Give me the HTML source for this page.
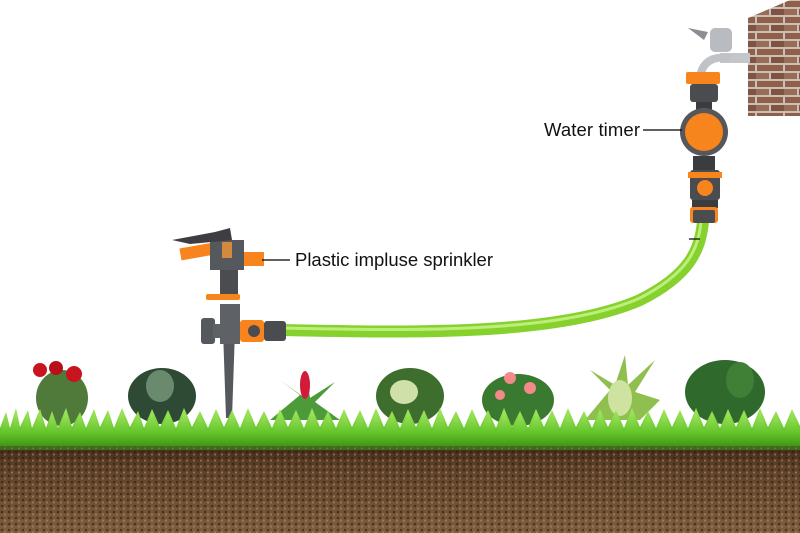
<!DOCTYPE html>
<html><head><meta charset="utf-8"><style>
html,body{margin:0;padding:0;background:#fff;width:800px;height:533px;overflow:hidden}
text{font-family:"Liberation Sans",Arial,sans-serif}
</style></head><body>
<svg width="800" height="533" viewBox="0 0 800 533" xmlns="http://www.w3.org/2000/svg">
<defs>
<linearGradient id="soil" x1="0" y1="0" x2="0" y2="1"><stop offset="0" stop-color="#3e2818"/><stop offset="0.25" stop-color="#5e4129"/><stop offset="1" stop-color="#7e5e3e"/></linearGradient>
<linearGradient id="grass" x1="0" y1="0" x2="0" y2="1"><stop offset="0" stop-color="#a6e860"/><stop offset="0.6" stop-color="#62c42a"/><stop offset="1" stop-color="#3a8c14"/></linearGradient>
<pattern id="brick" width="28" height="16" patternUnits="userSpaceOnUse"><rect width="28" height="16" fill="#c8c0b4"/><rect x="1" y="1" width="26" height="6" fill="#8f5f4a"/><rect x="-13" y="9" width="26" height="6" fill="#9a6b55"/><rect x="15" y="9" width="26" height="6" fill="#7f5242"/></pattern>
<pattern id="dots" width="7" height="6" patternUnits="userSpaceOnUse"><circle cx="2" cy="2" r="1.3" fill="#2a1a0e" opacity=".6"/><circle cx="5" cy="4.5" r="1.1" fill="#b89670" opacity=".55"/></pattern>
</defs>
<rect x="0" y="444" width="800" height="89" fill="url(#soil)"/>
<rect x="0" y="444" width="800" height="89" fill="url(#dots)"/>
<polygon points="748,18 790,0 800,0 800,116 748,116" fill="url(#brick)"/>
<path d="M283,330 C420,333 560,335 640,300 C690,275 700,250 703,222" stroke="#86d12e" stroke-width="12" fill="none"/>
<path d="M283,328 C420,331 560,333 640,298 C688,273 698,250 701,222" stroke="#bdee7a" stroke-width="3" fill="none"/>
<path d="M688,28 l20,4 l-4,8 z" fill="#8b8e92"/>
<rect x="710" y="28" width="22" height="24" rx="5" fill="#b8bcc0"/>
<rect x="720" y="53" width="30" height="10" fill="#c4c7ca"/>
<path d="M700,78 C702,60 715,56 730,58" stroke="#bfc2c6" stroke-width="8" fill="none"/>
<rect x="686" y="72" width="34" height="12" rx="2" fill="#f7841c"/>
<rect x="690" y="84" width="28" height="18" rx="3" fill="#4a4c50"/>
<rect x="696" y="102" width="16" height="8" fill="#3a3c40"/>
<circle cx="704" cy="132" r="24" fill="#55575b"/>
<circle cx="704" cy="132" r="19" fill="#f7841c"/>
<rect x="693" y="156" width="22" height="14" fill="#3a3c40"/>
<rect x="690" y="170" width="30" height="30" rx="3" fill="#4a4c50"/>
<rect x="688" y="172" width="34" height="6" fill="#f7841c"/>
<circle cx="705" cy="188" r="8" fill="#f7841c"/>
<rect x="692" y="200" width="26" height="8" fill="#3a3c40"/>
<rect x="690" y="207" width="28" height="16" rx="3" fill="#f7841c"/>
<rect x="693" y="210" width="22" height="13" rx="2" fill="#4a4c50"/>
<line x1="643" y1="130" x2="682" y2="130" stroke="#000" stroke-width="1.2"/>
<line x1="689" y1="239" x2="700" y2="239" stroke="#000" stroke-width="1.2"/>
<text x="544" y="136" font-size="18.5" fill="#111" textLength="96">Water timer</text>
<polygon points="223,330 235,330 232,418 226,418" fill="#55585c"/>
<rect x="220" y="304" width="20" height="40" fill="#5e6165"/>
<rect x="201" y="318" width="14" height="26" rx="3" fill="#55585c"/>
<rect x="213" y="324" width="30" height="14" fill="#5e6165"/>
<rect x="240" y="320" width="24" height="22" rx="3" fill="#f7841c"/>
<circle cx="254" cy="331" r="6" fill="#4a4c50"/>
<rect x="264" y="321" width="22" height="20" rx="3" fill="#4a4c50"/>
<rect x="206" y="294" width="34" height="6" rx="2" fill="#f7841c"/>
<rect x="220" y="270" width="18" height="24" fill="#4a4c50"/>
<rect x="180" y="245" width="44" height="12" fill="#f7841c" transform="rotate(-10 200 250)"/>
<rect x="234" y="252" width="30" height="14" fill="#f7841c"/>
<rect x="210" y="240" width="34" height="30" fill="#55585c"/>
<rect x="222" y="242" width="10" height="16" fill="#d48a3c"/>
<polygon points="172,240 215,232 230,228 232,240 190,244" fill="#3c3e42"/>
<line x1="262" y1="260" x2="290" y2="260" stroke="#000" stroke-width="1.2"/>
<text x="295" y="266" font-size="18.5" fill="#111" textLength="198">Plastic impluse sprinkler</text>
<g>
<ellipse cx="62" cy="398" rx="26" ry="28" fill="#4f7a3a"/>
<circle cx="40" cy="370" r="7" fill="#c8141e"/><circle cx="56" cy="368" r="7" fill="#b8101a"/><circle cx="74" cy="374" r="8" fill="#c8141e"/>
<ellipse cx="162" cy="396" rx="34" ry="28" fill="#2e4a34"/><ellipse cx="160" cy="386" rx="14" ry="16" fill="#6a8a6e"/>
<path d="M270,420 L300,395 L280,380 L305,398 L306,372 L310,398 L335,382 L315,402 L340,420 Z" fill="#4c9a3a"/><ellipse cx="305" cy="385" rx="5" ry="14" fill="#d21a3a"/>
<ellipse cx="410" cy="396" rx="34" ry="28" fill="#3e6e2e"/><ellipse cx="404" cy="392" rx="14" ry="12" fill="#cfe0a8"/>
<ellipse cx="518" cy="400" rx="36" ry="26" fill="#3a7a30"/><circle cx="510" cy="378" r="6" fill="#f28a8a"/><circle cx="530" cy="388" r="6" fill="#f28a8a"/><circle cx="500" cy="395" r="5" fill="#f28a8a"/>
<path d="M585,420 L610,390 L590,370 L615,385 L625,355 L628,385 L655,360 L635,392 L660,400 L640,420 Z" fill="#8fbf4e"/><ellipse cx="620" cy="398" rx="12" ry="18" fill="#cfe3a0"/>
<ellipse cx="725" cy="392" rx="40" ry="32" fill="#2f6a2c"/><ellipse cx="740" cy="380" rx="14" ry="18" fill="#3f7f36"/>
</g>
<path id="g" d="M0,446 L0,428 L6,412 L10,428 L16,408 L20,427 L28,410 L32,428 L40,409 L46,428 L52,411 L58,428 L66,408 L72,427 L80,412 L86,428 L94,409 L100,427 L108,410 L114,428 L122,408 L130,427 L138,411 L144,428 L152,409 L160,427 L168,410 L176,428 L184,408 L192,427 L200,411 L208,428 L216,409 L224,427 L232,410 L240,428 L248,408 L256,427 L264,411 L272,428 L280,409 L288,427 L296,410 L304,428 L312,408 L320,427 L328,411 L336,428 L344,409 L352,427 L360,410 L368,428 L376,408 L384,427 L392,411 L400,428 L408,409 L416,427 L424,410 L432,428 L440,408 L448,427 L456,411 L464,428 L472,409 L480,427 L488,410 L496,428 L504,408 L512,427 L520,411 L528,428 L536,409 L544,427 L552,410 L560,428 L568,408 L576,427 L584,411 L592,428 L600,409 L608,427 L616,410 L624,428 L632,408 L640,427 L648,411 L656,428 L664,409 L672,427 L680,410 L688,428 L696,408 L704,427 L712,411 L720,428 L728,409 L736,427 L744,410 L752,428 L760,408 L768,427 L776,411 L784,428 L792,409 L800,426 L800,446 Z" fill="url(#grass)"/>
<use href="#g" x="0" y="4" opacity=".6"/>
</svg>
</body></html>
